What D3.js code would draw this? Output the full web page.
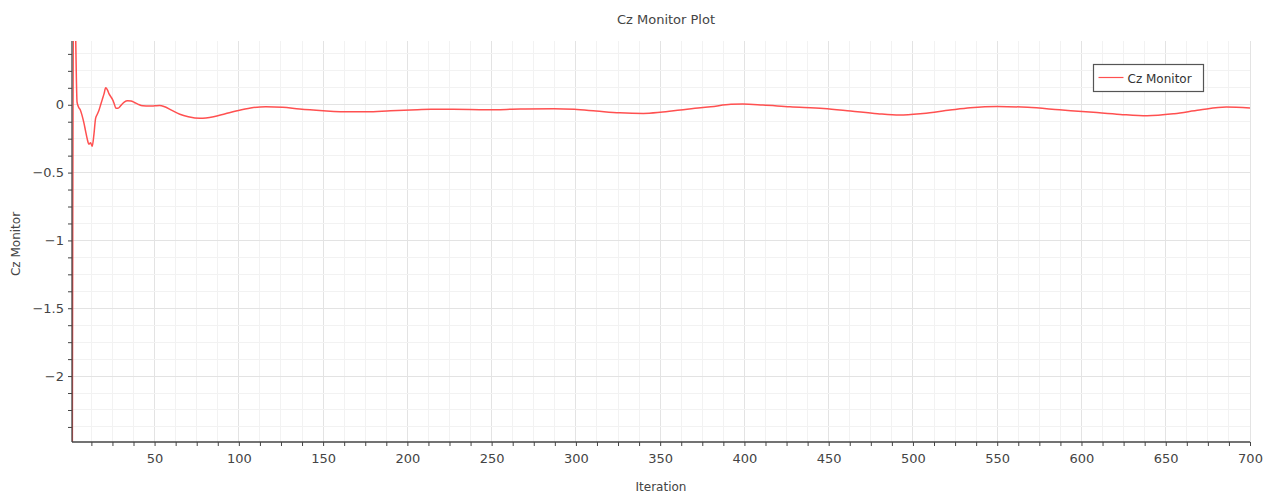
<!DOCTYPE html>
<html>
<head>
<meta charset="utf-8">
<script src="https://cdn.jsdelivr.net/npm/d3@7"></script>
<style>
  body { margin: 0; background: #fff; }
  svg { display: block; font-family: "DejaVu Sans", sans-serif; }
</style>
</head>
<body>
<div id="chart"></div>
<script>
// monitor samples
const iterations = [1, 2, 3, 4, 5, 6, 7, 8, 9, 10, 11, 12, 13, 14, 15, 16, 17, 18, 19, 20,
    21, 22, 23, 24, 25, 26, 27, 28, 29, 30, 32, 34, 36, 38, 40, 43, 47, 50, 53, 56,
    60, 65, 70, 77, 85, 92, 99, 107, 116, 126, 136, 150, 166, 176, 190, 206, 214, 227,
    247, 267, 287, 299, 312, 326, 340, 350, 362, 374, 380, 392, 399, 411, 427, 447,
    463, 479, 492, 506, 522, 534, 550, 568, 587, 607, 623, 639, 655, 670, 686, 700];
const czValues = [-4, 0.9, 0.6, 0.02, -0.02, -0.04, -0.08, -0.13, -0.19, -0.25, -0.29, -0.28,
    -0.305, -0.22, -0.10, -0.07, -0.04, 0.0, 0.04, 0.08, 0.125, 0.11, 0.08, 0.06, 0.04,
    0.01, -0.025, -0.025, -0.02, -0.005, 0.02, 0.03, 0.028, 0.017, 0.005, -0.008, -0.01,
    -0.008, -0.005, -0.015, -0.04, -0.07, -0.088, -0.10, -0.088, -0.066, -0.044, -0.024,
    -0.015, -0.019, -0.032, -0.044, -0.052, -0.052, -0.044, -0.037, -0.034, -0.034,
    -0.037, -0.032, -0.03, -0.034, -0.046, -0.059, -0.064, -0.056, -0.039, -0.022,
    -0.015, 0.003, 0.005, -0.002, -0.015, -0.027, -0.046, -0.066, -0.076, -0.064,
    -0.039, -0.022, -0.012, -0.019, -0.037, -0.056, -0.071, -0.081, -0.066, -0.039,
    -0.017, -0.024];

const xMajorTicks = [50, 100, 150, 200, 250, 300, 350, 400, 450, 500, 550, 600, 650, 700];
const yMajorTicks = [-2, -1.5, -1, -0.5, 0];
const title = "Cz Monitor Plot";
const seriesName = "Cz Monitor";

const width = 1275, height = 493;
const margin = { top: 41, right: 25, bottom: 51, left: 72 };
const lineColor = "#ff5050";
const axisColor = "#444";

const svg = d3.select("#chart").append("svg")
    .attr("width", width)
    .attr("height", height);

const x = d3.scaleLinear()
    .domain([1, 700])
    .range([margin.left, width - margin.right]);

const y = d3.scaleLinear()
    .domain([-2.486, 0.47])
    .range([height - margin.bottom, margin.top]);

// minor grid/tick positions
const xMinor = d3.range(12.5, 700.1, 12.5);
const yMinor = d3.range(-2.375, 0.47, 0.125);
const isMajorX = v => Math.abs(v / 50 - Math.round(v / 50)) < 1e-6;
const isMajorY = v => Math.abs(v / 0.5 - Math.round(v / 0.5)) < 1e-6;

const grid = svg.append("g");
grid.selectAll(".vgrid")
    .data(xMinor)
    .enter().append("line")
    .attr("x1", d => x(d)).attr("x2", d => x(d))
    .attr("y1", margin.top).attr("y2", height - margin.bottom)
    .attr("stroke", d => isMajorX(d) ? "#e3e3e3" : "#f2f2f2")
    .attr("stroke-width", 1)
    .attr("shape-rendering", "crispEdges");
grid.selectAll(".hgrid")
    .data(yMinor)
    .enter().append("line")
    .attr("x1", margin.left).attr("x2", width - margin.right)
    .attr("y1", d => y(d)).attr("y2", d => y(d))
    .attr("stroke", d => isMajorY(d) ? "#e3e3e3" : "#f2f2f2")
    .attr("stroke-width", 1)
    .attr("shape-rendering", "crispEdges");

// the monitor line
svg.append("clipPath").attr("id", "plotClip")
    .append("rect")
    .attr("x", margin.left)
    .attr("y", margin.top)
    .attr("width", width - margin.left - margin.right)
    .attr("height", height - margin.top - margin.bottom);

const points = iterations.map((it, i) => [it, czValues[i]]);
const line = d3.line()
    .x(d => x(d[0]))
    .y(d => y(d[1]))
    .curve(d3.curveMonotoneX);

svg.append("path")
    .datum(points)
    .attr("clip-path", "url(#plotClip)")
    .attr("fill", "none")
    .attr("stroke", lineColor)
    .attr("stroke-width", 1.5)
    .attr("stroke-linejoin", "round")
    .attr("d", line);

// axes
const xAxis = d3.axisBottom(x)
    .tickValues(xMinor)
    .tickSize(4)
    .tickFormat(d => isMajorX(d) ? d3.format("~g")(d) : "");
const yAxis = d3.axisLeft(y)
    .tickValues(yMinor)
    .tickSize(4)
    .tickFormat(d => isMajorY(d) ? d3.format("~g")(d) : "");

const gx = svg.append("g")
    .attr("transform", "translate(0," + (height - margin.bottom) + ")")
    .call(xAxis);
const gy = svg.append("g")
    .attr("transform", "translate(" + margin.left + ",0)")
    .call(yAxis);

[gx, gy].forEach(g => {
    g.select(".domain").attr("stroke", axisColor).attr("stroke-width", 1.3);
    g.selectAll(".tick line").attr("stroke", axisColor);
    g.selectAll(".tick text")
        .attr("fill", axisColor)
        .style("font-size", "13px")
        .style("font-family", "DejaVu Sans, sans-serif");
});
gx.select(".domain").attr("d", "M" + margin.left + ",0H" + (width - margin.right));
gy.select(".domain").attr("d", "M0," + margin.top + "V" + (height - margin.bottom));
gx.selectAll(".tick text").attr("dy", "1.05em");
gy.selectAll(".tick text").attr("x", -8);

// titles
svg.append("text")
    .attr("x", (margin.left + width - margin.right) / 2 + 5)
    .attr("y", 24)
    .attr("text-anchor", "middle")
    .attr("fill", axisColor)
    .style("font-size", "13px")
    .text(title);

svg.append("text")
    .attr("x", (margin.left + width - margin.right) / 2)
    .attr("y", 491)
    .attr("text-anchor", "middle")
    .attr("fill", axisColor)
    .style("font-size", "12px")
    .text("Iteration");

svg.append("text")
    .attr("transform", "translate(20,244) rotate(-90)")
    .attr("text-anchor", "middle")
    .attr("fill", axisColor)
    .style("font-size", "12px")
    .text(seriesName);

// legend
const legend = svg.append("g").attr("transform", "translate(1093.5,64.5)");
legend.append("rect")
    .attr("width", 110)
    .attr("height", 27)
    .attr("fill", "#fff")
    .attr("stroke", "#555")
    .attr("stroke-width", 1.2);
legend.append("line")
    .attr("x1", 5).attr("x2", 30)
    .attr("y1", 13).attr("y2", 13)
    .attr("stroke", lineColor)
    .attr("stroke-width", 1.2);
legend.append("text")
    .attr("x", 34)
    .attr("y", 18)
    .attr("fill", "#333")
    .style("font-size", "12px")
    .text(seriesName);
</script>
</body>
</html>
